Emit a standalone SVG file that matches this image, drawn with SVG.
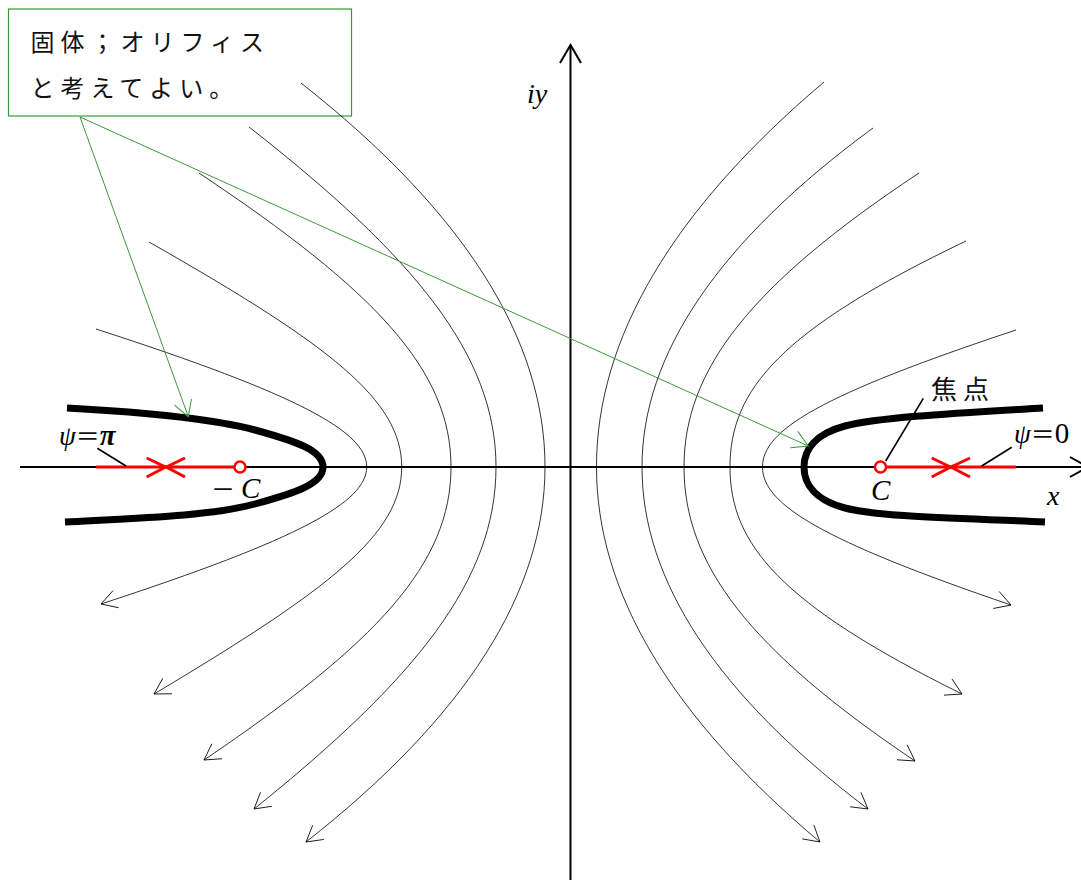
<svg xmlns="http://www.w3.org/2000/svg" width="1081" height="880" viewBox="0 0 1081 880">
<style>
.ax{fill:none;stroke:#000;stroke-width:2}
.sl{fill:none;stroke:#000;stroke-width:0.8;marker-end:url(#arr)}
.thick{fill:none;stroke:#000;stroke-width:7}
.red{fill:none;stroke:#ff0000;stroke-width:3}
.lead{fill:none;stroke:#000;stroke-width:1.6}
.grn{fill:none;stroke:#3a9a3a;stroke-width:1;marker-end:url(#garr)}
.it{font-family:"Liberation Serif","Times New Roman",serif;font-style:italic;fill:#000}
.rm{font-family:"Liberation Serif","Times New Roman",serif;fill:#000}
.jp{font-family:"Noto Sans CJK JP","Noto Sans CJK SC",sans-serif;fill:#111}
</style>
<defs>
<marker id="arr" markerUnits="userSpaceOnUse" markerWidth="40" markerHeight="40" viewBox="-20 -20 40 40" refX="0" refY="0" orient="auto" overflow="visible">
<path d="M-15.6,-9 L0,0 L-15.6,9" fill="none" stroke="#000" stroke-width="0.8"/>
</marker>
<marker id="garr" markerUnits="userSpaceOnUse" markerWidth="40" markerHeight="40" viewBox="-20 -20 40 40" refX="0" refY="0" orient="auto" overflow="visible">
<path d="M-15.6,-9 L0,0 L-15.6,9" fill="none" stroke="#3a9a3a" stroke-width="1"/>
</marker>
</defs>
<rect width="1081" height="880" fill="#fff"/>

<g id="note">
<rect x="8.5" y="9" width="343" height="107" fill="none" stroke="#3a9a3a" stroke-width="1.2"/>
<text class="jp" x="30.5" y="51" font-size="24" letter-spacing="6">固体；オリフィス</text>
<text class="jp" x="30.5" y="97" font-size="24" letter-spacing="6">と考えてよい。</text>
</g>

<g id="axes">
<line class="ax" x1="20" y1="467" x2="1088" y2="467"/>
<polyline class="ax" points="1070,457 1088,467 1070,477"/>
<line class="ax" x1="570.5" y1="880" x2="570.5" y2="45"/>
<polyline class="ax" points="560,63 570.5,45 581,63"/>
<text class="it" x="527" y="103" font-size="28">iy</text>
<text class="it" x="1047" y="505" font-size="28">x</text>
</g>

<g id="streamlines-right">
<path class="sl" d="M824,82 C672.3,210.3 596.5,338.7 596.5,467 C596.5,592 671,717 820,842"/>
<path class="sl" d="M873,128 C719,241 642,354 642,467 C642,581 717.3,695 868,809"/>
<path class="sl" d="M919,173 C750,285 684,370 684,467 C684,564 748.7,649.3 915,761"/>
<path class="sl" d="M966,241 C780,330 730,390 730,467 C730,544 780,604 962,694"/>
<path class="sl" d="M1016,330 C820,395 762.5,430 762.5,467 C762.5,504 820,540 1011,605"/>
</g>

<g id="streamlines-left">
<path class="sl" d="M301,83 C463.7,211 545,339 545,467 C545,592 465.3,717 306,842"/>
<path class="sl" d="M249,127 C414,256 496,355 496,467 C496,580 416,679 254,809"/>
<path class="sl" d="M199,173 C375.4,290.6 451,370 451,467 C451,564 377,643 204,760"/>
<path class="sl" d="M149,242 C330,345 401.7,400 401.7,467 C401.7,534 330,589 154,694"/>
<path class="sl" d="M96,329 C300,395 366.7,432 366.7,467 C366.7,502 300,539 101,604"/>
</g>

<g id="wall-right">
<path class="thick" d="M1043,408 C960,413 880,417 845,426 C815,434 804,450 804,467 C804,484 815,500 845,508 C880,517 960,518 1045,522"/>
</g>
<g id="wall-left">
<path class="thick" d="M67,408 C140,412 210,418 255,430 C295,441 323,450 323,467 C323,484 295,493 255,504 C210,516 140,518 65,522"/>
</g>

<g id="focus-right">
<line class="red" x1="887" y1="467" x2="1016" y2="467"/>
<polyline class="red" points="931.7,458 950.5,467 931.7,477"/>
<polyline class="red" points="970,458 951,467 970,477"/>
<circle cx="880.5" cy="467" r="5.5" fill="#fff" stroke="#ff0000" stroke-width="2.5"/>
<text class="it" x="871" y="500" font-size="29">C</text>
</g>

<g id="focus-left">
<line class="red" x1="96" y1="467" x2="234" y2="467"/>
<polyline class="red" points="146.7,458 165.5,467 146.7,477"/>
<polyline class="red" points="185,458 166.3,467 185,477"/>
<circle cx="240" cy="467" r="5.5" fill="#fff" stroke="#ff0000" stroke-width="2.5"/>
<text x="211" y="498"><tspan class="jp" font-size="24">－</tspan><tspan class="it" dx="6" font-size="29">C</tspan></text>
</g>

<g id="label-psi-pi">
<text x="59" y="445"><tspan class="it" font-size="27">ψ</tspan><tspan class="jp" font-size="24">＝</tspan><tspan class="it" font-size="29" font-weight="bold">π</tspan></text>
</g>
<g id="label-psi-0">
<text x="1014" y="443"><tspan class="it" font-size="27">ψ</tspan><tspan class="jp" font-size="24">＝</tspan><tspan class="rm" font-size="29">0</tspan></text>
</g>
<g id="label-focus">
<text class="jp" x="931" y="399" font-size="26" letter-spacing="6">焦点</text>
</g>

<g id="connectors">
<line class="grn" x1="80" y1="117" x2="188.3" y2="416.7"/>
<line class="grn" x1="80" y1="117" x2="808.3" y2="446"/>
<line class="lead" x1="885.7" y1="461" x2="923.3" y2="398.3"/>
<line class="lead" x1="981.7" y1="466" x2="1011.7" y2="447.3"/>
<line class="lead" x1="97.3" y1="448.3" x2="126" y2="466"/>
</g>
</svg>
